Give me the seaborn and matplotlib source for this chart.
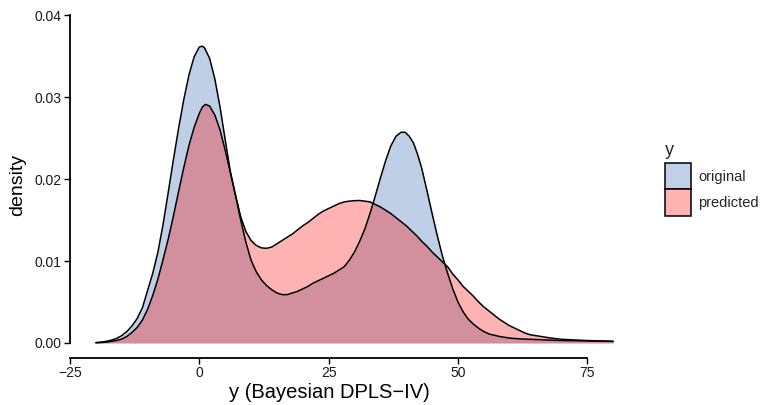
import numpy as np
import pandas as pd
import matplotlib
matplotlib.use("Agg")
import matplotlib.pyplot as plt
from matplotlib.patches import Patch
import seaborn as sns

# ---- density curves ----
x_original = [-20, -19, -18, -17, -16, -15, -14, -13, -12, -11, -10, -9, -8, -7, -6, -5, -4, -3, -2, -1,
              0, 0.6, 1, 2, 3, 4, 5, 6, 7, 8, 9, 10, 11, 12, 13, 14, 15, 16, 17, 18, 19, 20,
              21, 22, 23, 24, 25, 26, 27, 28, 29, 30, 31, 32, 33, 34, 35, 36, 37, 38, 39, 39.8,
              40.6, 41.4, 42.2, 43, 44, 45, 46, 47, 48, 49, 50, 51, 52, 53, 54, 55, 56, 58, 60,
              62, 66, 70, 75, 80]
d_original = [0.00005, 0.0001, 0.0002, 0.00035, 0.00055, 0.0009, 0.0014, 0.0021, 0.0030, 0.0043,
              0.0064, 0.0085, 0.0111, 0.0145, 0.0184, 0.0224, 0.0262, 0.0297, 0.0327, 0.0349,
              0.0361, 0.0362, 0.0360, 0.0347, 0.0322, 0.0288, 0.0248, 0.0209, 0.0180, 0.0150,
              0.0123, 0.0101, 0.0087, 0.0077, 0.0070, 0.0065, 0.0061, 0.0059, 0.0059, 0.0061,
              0.0063, 0.0066, 0.0069, 0.0073, 0.0076, 0.0079, 0.0082, 0.0085, 0.0089, 0.0093,
              0.0101, 0.0111, 0.0124, 0.0139, 0.0158, 0.0179, 0.0201, 0.0222, 0.0240, 0.0252,
              0.0257, 0.0257, 0.0252, 0.0244, 0.0230, 0.0213, 0.0186, 0.0158, 0.0131, 0.0106,
              0.0085, 0.0066, 0.0050, 0.0038, 0.0029, 0.0023, 0.0018, 0.0014, 0.0011, 0.0008,
              0.0006, 0.0005, 0.0004, 0.0003, 0.00025, 0.0002]

x_predicted = [-20, -19, -18, -17, -16, -15, -14, -13, -12, -11, -10, -9, -8, -7, -6, -5, -4, -3, -2,
               -1, 0, 0.6, 1.2, 2, 3, 4, 5, 6, 7, 8, 9, 10, 11, 12, 13, 14, 15, 16, 17, 18, 19,
               20, 21, 22, 23, 24, 25, 26, 27, 28, 29, 30, 31, 32, 33, 34, 35, 36, 37, 38, 39, 40,
               41, 42, 43, 44, 45, 46, 47, 48, 49, 50, 51, 52, 53, 54, 55, 56, 57, 58, 59, 60,
               61, 62, 63, 64, 66, 68, 70, 75, 80]
d_predicted = [0.00003, 0.00006, 0.0001, 0.0002, 0.0003, 0.00048, 0.0008, 0.0013, 0.0019, 0.0028,
               0.0041, 0.0058, 0.0078, 0.0102, 0.0127, 0.0155, 0.0185, 0.0214, 0.0241, 0.0263,
               0.0280, 0.0288, 0.0291, 0.0289, 0.0278, 0.0260, 0.0235, 0.0208, 0.0180, 0.0154,
               0.0136, 0.0125, 0.0119, 0.0116, 0.01155, 0.0117, 0.0121, 0.0125, 0.0129, 0.0133,
               0.0138, 0.0143, 0.0147, 0.0152, 0.0157, 0.0161, 0.0164, 0.0167, 0.0170, 0.0172,
               0.0173, 0.01736, 0.01738, 0.0173, 0.0172, 0.0169, 0.0166, 0.0162, 0.0158, 0.0153,
               0.0148, 0.0143, 0.0137, 0.0131, 0.0124, 0.0118, 0.0111, 0.0105, 0.0099, 0.0093,
               0.0084, 0.0077, 0.0069, 0.0063, 0.0057, 0.0050, 0.0044, 0.0039, 0.0034, 0.0029,
               0.0025, 0.0021, 0.0018, 0.0015, 0.0012, 0.0010, 0.0008, 0.0006, 0.00045, 0.0003,
               0.0002]

groups = ["original", "predicted"]
fill_colors = {"original": "#2d62ac", "predicted": "#ff0000"}
x_ticks = [-25, 0, 25, 50, 75]
y_ticks = [0.00, 0.01, 0.02, 0.03, 0.04]
x_label = "y (Bayesian DPLS\u2212IV)"
y_label = "density"
legend_title = "y"

df = pd.concat([
    pd.DataFrame({"x": x_original, "density": d_original, "y": "original"}),
    pd.DataFrame({"x": x_predicted, "density": d_predicted, "y": "predicted"}),
], ignore_index=True)

sns.set_theme(style="ticks")
plt.rcParams["font.family"] = ["Liberation Sans", "DejaVu Sans"]

W, H = 760, 405
fig = plt.figure(figsize=(W / 100, H / 100), dpi=100)

x_px_left, x_px_right = 70, 639
y_px_bottom, y_px_top = 358, 13.4
ax = fig.add_axes([x_px_left / W, (H - y_px_bottom) / H,
                   (x_px_right - x_px_left) / W, (y_px_bottom - y_px_top) / H])

for g in groups:
    sub = df[df["y"] == g]
    ax.fill_between(sub["x"], 0, sub["density"], color=fill_colors[g], alpha=0.3, linewidth=0)
    sns.lineplot(data=sub, x="x", y="density", color="black", linewidth=1.1, ax=ax,
                 sort=False, estimator=None)

ax.set_xlim(-25, 85)
ax.set_ylim(-0.00183, 0.0402)
ax.set_xticks(x_ticks)
ax.set_xticklabels([f"{t:d}".replace("-", "\u2212") for t in x_ticks])
ax.set_yticks(y_ticks)
ax.set_yticklabels([f"{t:.2f}" for t in y_ticks])
ax.tick_params(axis="both", labelsize=10, colors="black", length=4, width=1.0,
               direction="out", pad=2)
for lab in ax.get_xticklabels() + ax.get_yticklabels():
    lab.set_color("#1a1a1a")

for s in ["top", "right"]:
    ax.spines[s].set_visible(False)
ax.spines["left"].set_bounds(0, 0.04)
ax.spines["bottom"].set_bounds(-25, 75)
for s in ["left", "bottom"]:
    ax.spines[s].set_linewidth(1.3)
    ax.spines[s].set_color("black")

ax.set_xlabel("")
ax.set_ylabel("")
fig.text(329 / W, 1 - 393 / H, x_label, ha="center", va="center", fontsize=14.5, color="black")
fig.text(18 / W, 1 - 185 / H, y_label, ha="center", va="center", rotation=90,
         fontsize=14, color="black")

handles = []
for g in groups:
    rgb = matplotlib.colors.to_rgb(fill_colors[g])
    vis = tuple(0.3 * c + 0.7 for c in rgb)
    handles.append(Patch(facecolor=vis, edgecolor="black", linewidth=1.1))
leg = fig.legend(handles, groups, title=legend_title, loc="upper left",
                 bbox_to_anchor=(665 / W, 1 - 142 / H), frameon=False,
                 fontsize=10.5, title_fontsize=13, handlelength=1.8, handleheight=2.4,
                 labelspacing=0.0, handletextpad=0.5, borderaxespad=0, borderpad=0)
leg._legend_box.align = "left"
leg._legend_box.sep = 3

fig.savefig("out.png", dpi=100)
